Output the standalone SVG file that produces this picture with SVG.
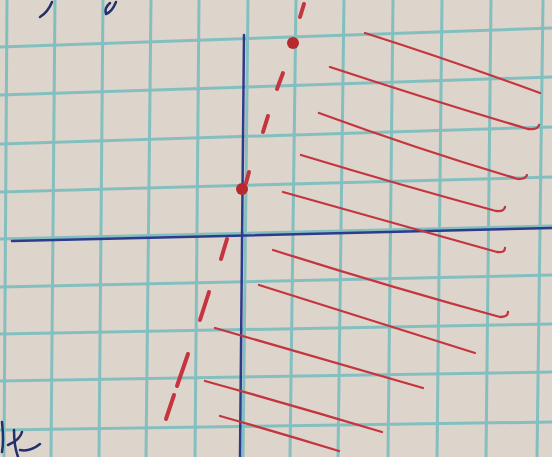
<svg xmlns="http://www.w3.org/2000/svg" width="552" height="457" viewBox="0 0 552 457">
<style>
.grid{stroke:#84bfc0;stroke-width:3;fill:none}
.axis{stroke:#2c3b8c;stroke-width:2.5;fill:none;stroke-linecap:round}
.red{stroke:#c4353f;stroke-width:2.3;fill:none;stroke-linecap:round;stroke-linejoin:round}
.dash{stroke:#c4353f;stroke-width:4;fill:none;stroke-linecap:round}
.ink{stroke:#23306e;stroke-width:2.5;fill:none;stroke-linecap:round}
</style>
<rect width="552" height="457" fill="#ddd4cb"/>
<g id="grid">
<line class="grid" x1="7" y1="0" x2="4" y2="457"/>
<line class="grid" x1="55" y1="0" x2="51" y2="457"/>
<line class="grid" x1="103" y1="0" x2="99" y2="457"/>
<line class="grid" x1="151" y1="0" x2="146" y2="457"/>
<line class="grid" x1="199" y1="0" x2="195" y2="457"/>
<line class="grid" x1="248" y1="0" x2="243" y2="457"/>
<line class="grid" x1="296" y1="0" x2="290" y2="457"/>
<line class="grid" x1="344" y1="0" x2="338" y2="457"/>
<line class="grid" x1="393" y1="0" x2="388" y2="457"/>
<line class="grid" x1="442" y1="0" x2="437" y2="457"/>
<line class="grid" x1="491" y1="0" x2="486" y2="457"/>
<line class="grid" x1="543" y1="0" x2="537" y2="457"/>
<line class="grid" x1="0" y1="47" x2="552" y2="28"/>
<line class="grid" x1="0" y1="95" x2="552" y2="77"/>
<line class="grid" x1="0" y1="144" x2="552" y2="127"/>
<line class="grid" x1="0" y1="192" x2="552" y2="177"/>
<line class="grid" x1="0" y1="239" x2="552" y2="226"/>
<line class="grid" x1="0" y1="287" x2="552" y2="275"/>
<line class="grid" x1="0" y1="334" x2="552" y2="324"/>
<line class="grid" x1="0" y1="381" x2="552" y2="372"/>
<line class="grid" x1="0" y1="430" x2="552" y2="422"/>
</g>
<g id="handwriting">
<path class="ink" d="M40 17 Q48 12 52 2"/>
<path class="ink" d="M106 14 Q104 8 110 3 M106 14 Q112 12 116 2"/>
<path class="ink" d="M2 422 Q4 440 2 452 M8 445 Q20 440 22 432 M14 430 Q14 446 18 457 M20 450 Q30 452 40 444"/>
</g>
<g id="axes">
<line class="axis" x1="244" y1="35" x2="240" y2="457"/>
<line class="axis" x1="12" y1="241" x2="552" y2="228"/>
</g>
<g id="boundary">
<line class="dash" x1="304" y1="4" x2="300" y2="17"/>
<circle cx="293" cy="43" r="6" fill="#b8282f"/>
<line class="dash" x1="283" y1="73" x2="277" y2="89"/>
<line class="dash" x1="268" y1="116" x2="263" y2="132"/>
<line class="dash" x1="249" y1="172" x2="246" y2="183"/>
<circle cx="242" cy="189" r="6" fill="#b8282f"/>
<line class="dash" x1="227" y1="239" x2="221" y2="259"/>
<line class="dash" x1="209" y1="292" x2="200" y2="320"/>
<line class="dash" x1="188" y1="354" x2="177" y2="386"/>
<line class="dash" x1="174" y1="395" x2="166" y2="419"/>
</g>
<g id="hatching">
<path class="red" d="M365 33 Q450 60 540 93"/>
<path class="red" d="M330 67 Q430 100 528 129 Q538 130 539 125"/>
<path class="red" d="M319 113 Q420 150 518 179 Q526 179 527 175"/>
<path class="red" d="M301 155 Q400 185 496 211 Q504 212 505 207"/>
<path class="red" d="M283 192 Q390 222 497 252 Q505 253 505 248"/>
<path class="red" d="M273 250 Q390 287 500 317 Q508 317 508 312"/>
<path class="red" d="M259 285 Q370 320 475 353"/>
<path class="red" d="M215 328 Q320 358 423 388"/>
<path class="red" d="M205 381 Q295 406 382 432"/>
<path class="red" d="M220 416 Q280 433 339 451"/>
</g>
</svg>
